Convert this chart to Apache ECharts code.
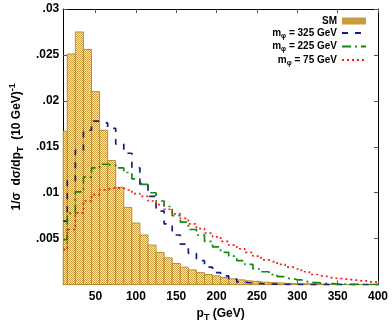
<!DOCTYPE html>
<html>
<head>
<meta charset="utf-8">
<script src="https://cdn.jsdelivr.net/npm/echarts@6/dist/echarts.min.js"></script>
<style>
  html, body { margin: 0; padding: 0; background: #fff; }
  #chart { width: 392px; height: 327px; }
</style>
</head>
<body>
<div id="chart"></div>
<script>
  // bin centres (10 GeV bins)
  const ptBins = [10, 20, 30, 40, 50, 60, 70, 80, 90, 100, 110, 120, 130, 140, 150, 160, 170, 180, 190, 200,
    210, 220, 230, 240, 250, 260, 270, 280, 290, 300, 310, 320, 330, 340, 350, 360, 370, 380, 390, 400];
  const smValues = [0.0167, 0.0251, 0.0275, 0.0256, 0.0210, 0.0168, 0.0135, 0.0106, 0.0084, 0.0067,
    0.0054, 0.0043, 0.0035, 0.0029, 0.0023, 0.0019, 0.0016, 0.0013, 0.0011, 0.00095,
    0.00077, 0.00062, 0.00052, 0.00041, 0.00033, 0.00027, 0.00022, 0.00018, 0.00014, 0.00011,
    0.00009, 0.00007, 0.00005, 0.00004, 0.00003, 0.00002, 0.00002, 0.00001, 0.00001, 0.00001];
  const m325Values = [0.0069, 0.0113, 0.0146, 0.0168, 0.0178, 0.0176, 0.0170, 0.0153, 0.0143, 0.0127,
    0.0110, 0.0096, 0.0080, 0.0066, 0.0054, 0.0044, 0.0034, 0.0026, 0.0019, 0.0013,
    0.00095, 0.0006, 0.0003, 0.0002, 0.00012, 0.00008, 0.00005, 0.00003, 0.00002, 0.00001,
    0.00001, 0, 0, 0, 0, 0, 0, 0, 0, 0];
  const m225Values = [0.0049, 0.00775, 0.0101, 0.0117, 0.0127, 0.0131, 0.0130, 0.0127, 0.0122, 0.0115,
    0.0109, 0.0100, 0.0091, 0.0085, 0.0075, 0.0068, 0.0060, 0.0054, 0.0047, 0.0041,
    0.0035, 0.0031, 0.0026, 0.0022, 0.0017, 0.0014, 0.0011, 0.00087, 0.00066, 0.00052,
    0.00033, 0.00022, 0.00015, 0.0001, 0.00006, 0.00004, 0.00002, 0.00001, 0.00001, 0];
  const m75Values = [0.0038, 0.0060, 0.0078, 0.0091, 0.0098, 0.0103, 0.0105, 0.0105, 0.0103, 0.0099,
    0.0096, 0.0091, 0.0087, 0.0082, 0.0077, 0.0072, 0.0066, 0.0061, 0.0056, 0.0052,
    0.0047, 0.0043, 0.0039, 0.0035, 0.0031, 0.0027, 0.0025, 0.0022, 0.0019, 0.0017,
    0.0014, 0.0011, 0.00095, 0.00076, 0.00066, 0.00059, 0.00048, 0.00041, 0.0003, 0.00025];
  const xTicks = [50, 100, 150, 200, 250, 300, 350, 400];

  const FONT = '"Liberation Sans", Arial, sans-serif';

  // checkerboard fill like the gnuplot pattern
  const createPattern = () => {
    const canvas = document.createElement('canvas');
    canvas.width = 2;
    canvas.height = 2;
    const ctx = canvas.getContext('2d');
    ctx.fillStyle = '#f8efd2';
    ctx.fillRect(0, 0, 2, 2);
    ctx.fillStyle = '#c99b3c';
    ctx.fillRect(0, 0, 1, 1);
    ctx.fillRect(1, 1, 1, 1);
    return canvas;
  };
  const barFill = { image: createPattern(), repeat: 'repeat' };

  const toPairs = (vals) => ptBins.map((x, i) => [x, vals[i]]);

  const chart = echarts.init(document.getElementById('chart'), null, { renderer: 'canvas' });

  const legendRich = {
    n: { fontFamily: FONT, fontSize: 10, fontWeight: 'bold', color: '#000' },
    sub: { fontFamily: FONT, fontSize: 7, fontWeight: 'bold', color: '#000', verticalAlign: 'bottom', padding: [6, 0, 0, 0] },
  };
  // hide the marker circle that line legends get, keep the dashed line
  const noMarker = { color: 'rgba(0,0,0,0)', borderColor: 'rgba(0,0,0,0)', borderWidth: 0 };

  const stepLine = (name, vals, color, dash, width) => ({
    name: name,
    type: 'line',
    step: 'middle',
    data: toPairs(vals),
    showSymbol: false,
    symbol: 'none',
    lineStyle: { color: color, width: width, type: dash },
    itemStyle: { color: color },
    z: 5,
    animation: false,
  });

  const option = {
    animation: false,
    grid: { left: 47, right: 14, top: 9, bottom: 38, containLabel: false },
    legend: {
      orient: 'vertical',
      right: 20,
      top: 11,
      align: 'right',
      itemGap: 2,
      itemWidth: 24,
      itemHeight: 7,
      data: [
        { name: 'SM', icon: 'rect', itemStyle: { color: '#c99b3c', borderColor: '#b8902f' } },
        { name: 'm325', itemStyle: noMarker },
        { name: 'm225', itemStyle: noMarker },
        { name: 'm75', itemStyle: noMarker },
      ],
      formatter: (name) => {
        if (name === 'SM') return '{n|SM}';
        const mass = name.slice(1);
        return '{n|m}{sub|φ}{n| = ' + mass + ' GeV}';
      },
      textStyle: { rich: legendRich, padding: [0, 0, 0, 0] },
    },
    xAxis: [
      {
        type: 'value',
        min: 10,
        max: 400,
        name: '{n|p}{sub|T}{n| (GeV)}',
        nameLocation: 'middle',
        nameGap: 20,
        nameTextStyle: {
          rich: {
            n: { fontFamily: FONT, fontSize: 12, fontWeight: 'bold', color: '#000' },
            sub: { fontFamily: FONT, fontSize: 9, fontWeight: 'bold', color: '#000', verticalAlign: 'bottom', padding: [8, 0, 0, 0] },
          },
        },
        axisLine: { show: true, lineStyle: { color: '#000', width: 1 } },
        axisTick: { show: true, inside: true, length: 4, customValues: xTicks, lineStyle: { color: '#555' } },
        axisLabel: { customValues: xTicks, fontFamily: FONT, fontSize: 12, fontWeight: 'bold', color: '#000', margin: 6 },
        splitLine: { show: false },
      },
      {
        type: 'value',
        position: 'top',
        min: 10,
        max: 400,
        axisLine: { show: true, onZero: false, lineStyle: { color: '#000', width: 1 } },
        axisTick: { show: true, inside: true, length: 4, customValues: xTicks, lineStyle: { color: '#555' } },
        axisLabel: { show: false },
        splitLine: { show: false },
      },
    ],
    yAxis: [
      {
        type: 'value',
        min: 0,
        max: 0.03,
        interval: 0.005,
        name: '{n|1/σ  dσ/dp}{sub|T}{n|  (10 GeV)}{sup|-1}',
        nameLocation: 'middle',
        nameRotate: 90,
        nameGap: 26,
        nameTextStyle: {
          rich: {
            n: { fontFamily: FONT, fontSize: 12, fontWeight: 'bold', color: '#000' },
            sub: { fontFamily: FONT, fontSize: 9, fontWeight: 'bold', color: '#000', verticalAlign: 'bottom', padding: [8, 0, 0, 0] },
            sup: { fontFamily: FONT, fontSize: 9, fontWeight: 'bold', color: '#000', verticalAlign: 'top', padding: [0, 0, 8, 0] },
          },
        },
        axisLine: { show: true, lineStyle: { color: '#000', width: 1 } },
        axisTick: { show: true, inside: true, length: 4, lineStyle: { color: '#555' } },
        axisLabel: {
          fontFamily: FONT,
          fontSize: 12,
          fontWeight: 'bold',
          color: '#000',
          margin: 4,
          formatter: (v) => (v === 0 ? '' : String(+v.toFixed(3)).replace(/^0\./, '.')),
        },
        splitLine: { show: false },
      },
      {
        type: 'value',
        position: 'right',
        min: 0,
        max: 0.03,
        interval: 0.005,
        axisLine: { show: true, onZero: false, lineStyle: { color: '#000', width: 1 } },
        axisTick: { show: true, inside: true, length: 4, lineStyle: { color: '#555' } },
        axisLabel: { show: false },
        splitLine: { show: false },
      },
    ],
    series: [
      {
        name: 'SM',
        type: 'custom',
        data: toPairs(smValues),
        itemStyle: { color: '#c99b3c' },
        z: 2,
        renderItem: (params, api) => {
          const x = api.value(0);
          const y = api.value(1);
          const p0 = api.coord([x - 5, y]);
          const p1 = api.coord([x + 5, 0]);
          const rect = echarts.graphic.clipRectByRect(
            { x: p0[0], y: p0[1], width: p1[0] - p0[0], height: p1[1] - p0[1] },
            params.coordSys
          );
          if (!rect) return;
          return {
            type: 'rect',
            shape: rect,
            style: { fill: barFill, stroke: '#b8902f', lineWidth: 1 },
          };
        },
      },
      stepLine('m325', m325Values, '#1a1a8a', [6, 7], 1.7),
      stepLine('m225', m225Values, '#108a10', [9, 4, 2, 4], 1.7),
      stepLine('m75', m75Values, '#ff1a1a', [2, 3], 1.7),
    ],
  };

  chart.setOption(option);
</script>
</body>
</html>
